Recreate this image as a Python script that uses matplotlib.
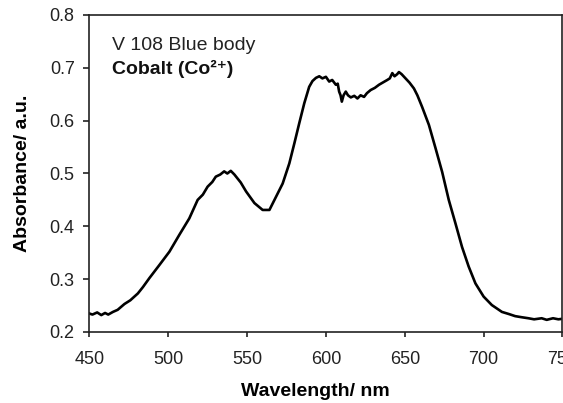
import matplotlib
matplotlib.use("Agg")
import matplotlib.pyplot as plt

# absorbance spectrum
wavelength = [450, 452, 455, 457.6, 460, 462, 465, 468, 472.3, 476, 480.8, 484,
              488.1, 494.5, 500.8, 507.1, 513.4, 518.7, 522, 525, 528, 530.2,
              533, 535.5, 537.5, 539.7, 542, 546, 549.4, 554.7, 559.9, 564.2,
              568.4, 572.6, 576.8, 580, 583.1, 586.3, 589.4, 591.5, 593.7,
              595.8, 597.8, 600, 602.1, 604, 606.3, 607.5, 608.4, 609.3, 610.1,
              611.2, 612.6, 614, 615.8, 618, 620, 622, 624.2, 626, 628.4, 631,
              633.7, 636, 638.9, 640.5, 642.1, 643.5, 645.2, 646.3, 648, 650.5,
              653, 655.8, 658, 661, 665.3, 669.5, 673.7, 677.9, 682.1, 686.3,
              690.5, 694.8, 700, 705.2, 711.6, 716, 720, 724, 728.4, 732, 736.8,
              740, 744, 747.4, 750]
absorbance = [0.235, 0.233, 0.237, 0.232, 0.236, 0.233, 0.238, 0.242, 0.253,
              0.260, 0.273, 0.285, 0.302, 0.327, 0.352, 0.384, 0.415, 0.450,
              0.460, 0.475, 0.484, 0.494, 0.498, 0.504, 0.500, 0.505, 0.498,
              0.483, 0.466, 0.444, 0.431, 0.431, 0.456, 0.481, 0.519, 0.557,
              0.595, 0.633, 0.664, 0.675, 0.681, 0.684, 0.680, 0.683, 0.674,
              0.677, 0.668, 0.670, 0.655, 0.648, 0.636, 0.648, 0.655, 0.648,
              0.644, 0.647, 0.642, 0.648, 0.645, 0.652, 0.658, 0.662, 0.668,
              0.672, 0.677, 0.680, 0.690, 0.684, 0.688, 0.692, 0.688, 0.680,
              0.672, 0.661, 0.648, 0.626, 0.592, 0.548, 0.503, 0.450, 0.406,
              0.361, 0.324, 0.292, 0.267, 0.251, 0.238, 0.234, 0.230, 0.228,
              0.226, 0.224, 0.226, 0.223, 0.226, 0.224, 0.225]

xticks = [450, 500, 550, 600, 650, 700, 750]
yticks = [0.2, 0.3, 0.4, 0.5, 0.6, 0.7, 0.8]

font = ["Liberation Sans", "DejaVu Sans"]
plt.rcParams["font.family"] = font

fig = plt.figure(figsize=(5.63, 4.03), dpi=100)
ax = fig.add_axes([0.1586, 0.1762, 0.8405, 0.7866])

ax.plot(wavelength, absorbance, color="black", lw=1.9)

ax.set_xlim(450, 750)
ax.set_ylim(0.2, 0.8)
ax.set_xticks(xticks)
ax.set_xticklabels([str(t) for t in xticks])
ax.set_yticks(yticks)
ax.set_yticklabels(["%.1f" % t for t in yticks])

for side in ["top", "right", "left", "bottom"]:
    ax.spines[side].set_linewidth(1.2)
    ax.spines[side].set_color("#222222")

ax.tick_params(axis="x", direction="out", length=3.5, width=1.2, pad=10,
               labelsize=13, colors="#222222")
ax.tick_params(axis="y", direction="out", length=4.5, width=1.2, pad=6,
               labelsize=13, colors="#222222")

ax.set_xlabel("Wavelength/ nm", fontsize=14, fontweight="bold", va="top")
ax.xaxis.set_label_coords(0.4785, -0.162)
ax.set_ylabel("Absorbance/ a.u.", fontsize=14, fontweight="bold")
ax.yaxis.set_label_coords(-0.123, 0.5)

ax.text(464.2, 0.7337, "V 108 Blue body", fontsize=14, va="baseline",
        color="#222222")
ax.text(464.2, 0.6883, "Cobalt (Co\u00b2\u207a)", fontsize=14,
        fontweight="bold", va="baseline", family=font, color="#111111")

fig.savefig("out.png", dpi=100)
plt.close(fig)
